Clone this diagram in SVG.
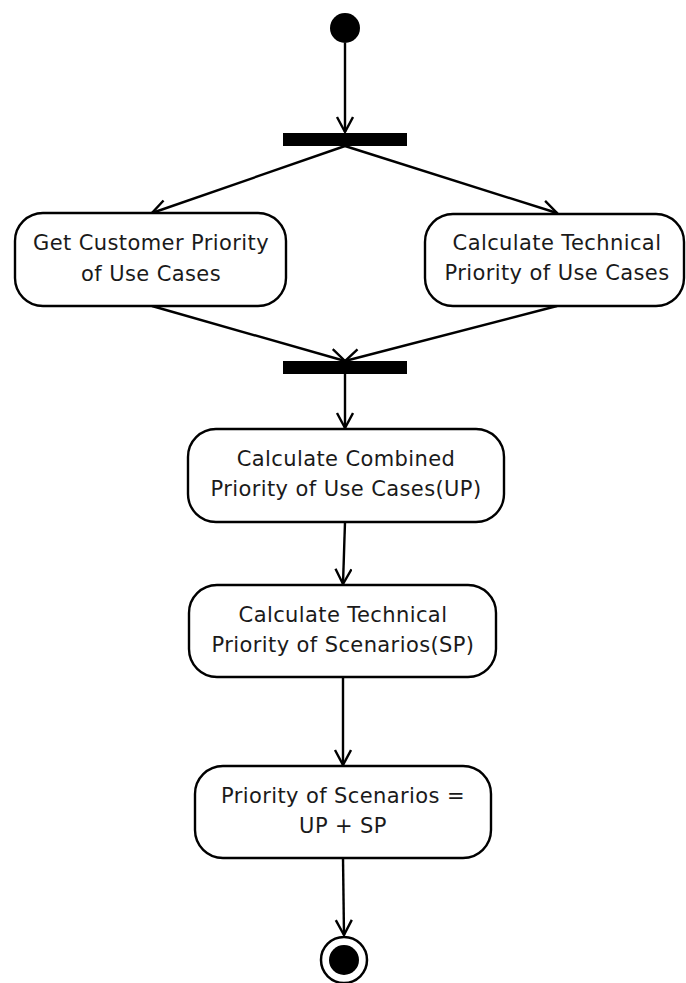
<svg xmlns="http://www.w3.org/2000/svg" width="686" height="983" viewBox="0 0 686 983">
<style>
.node{fill:#fff;stroke:#000;stroke-width:2.4}
.bar{fill:#000}
.lbl{font-family:"DejaVu Sans",sans-serif;font-size:21px;letter-spacing:0.4px;fill:#1a1a1a;text-anchor:middle}
.edge{fill:none;stroke:#000;stroke-width:2.4}
</style>
<defs>
<marker id="arr" markerUnits="userSpaceOnUse" markerWidth="20" markerHeight="20" refX="16" refY="9" orient="auto">
<path d="M1,1 L16,9 L1,17" fill="none" stroke="#000" stroke-width="2.4"/>
</marker>
</defs>
<rect width="686" height="983" fill="#fff"/>
<g id="connectors">
<line class="edge" x1="345" y1="43" x2="345" y2="132" marker-end="url(#arr)"/>
<line class="edge" x1="345" y1="146" x2="152" y2="213" marker-end="url(#arr)"/>
<line class="edge" x1="345" y1="146" x2="557" y2="213" marker-end="url(#arr)"/>
<line class="edge" x1="152" y1="306" x2="345" y2="361" marker-end="url(#arr)"/>
<line class="edge" x1="557" y1="306" x2="345" y2="361" marker-end="url(#arr)"/>
<line class="edge" x1="345" y1="374" x2="345" y2="428" marker-end="url(#arr)"/>
<line class="edge" x1="345" y1="522" x2="343" y2="584" marker-end="url(#arr)"/>
<line class="edge" x1="343" y1="677" x2="343" y2="765" marker-end="url(#arr)"/>
<line class="edge" x1="343" y1="858" x2="344" y2="935" marker-end="url(#arr)"/>
</g>
<g id="start"><circle cx="345" cy="28" r="15" fill="#000"/></g>
<g id="fork"><rect class="bar" x="283" y="133" width="124" height="13"/></g>
<g id="customer">
<rect class="node" x="15" y="213" width="271" height="93" rx="28"/>
<text class="lbl" x="151" y="250">Get Customer Priority</text>
<text class="lbl" x="151" y="281">of Use Cases</text>
</g>
<g id="technicalUC">
<rect class="node" x="425" y="214" width="259" height="92" rx="28"/>
<text class="lbl" x="557" y="250">Calculate Technical</text>
<text class="lbl" x="557" y="280">Priority of Use Cases</text>
</g>
<g id="join"><rect class="bar" x="283" y="361" width="124" height="13"/></g>
<g id="combined">
<rect class="node" x="188" y="429" width="316" height="93" rx="28"/>
<text class="lbl" x="346" y="466">Calculate Combined</text>
<text class="lbl" x="346" y="496">Priority of Use Cases(UP)</text>
</g>
<g id="technicalSP">
<rect class="node" x="189" y="585" width="307" height="92" rx="28"/>
<text class="lbl" x="343" y="622">Calculate Technical</text>
<text class="lbl" x="343" y="652">Priority of Scenarios(SP)</text>
</g>
<g id="sum">
<rect class="node" x="195" y="766" width="296" height="92" rx="28"/>
<text class="lbl" x="343" y="803">Priority of Scenarios =</text>
<text class="lbl" x="343" y="833">UP + SP</text>
</g>
<g id="end">
<circle cx="344" cy="960" r="23" fill="#fff" stroke="#000" stroke-width="2.5"/>
<circle cx="344" cy="960" r="15" fill="#000"/>
</g>
</svg>
